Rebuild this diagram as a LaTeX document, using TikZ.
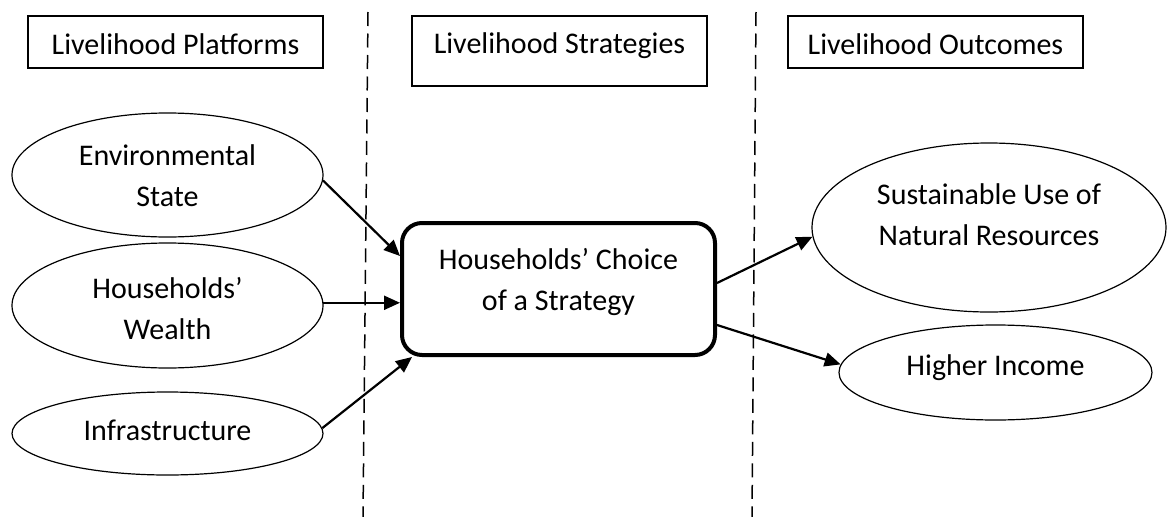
\documentclass[tikz,border=0pt]{standalone}
\usepackage{fontspec}
\setmainfont{Carlito}
\usetikzlibrary{shapes.geometric,arrows.meta}
\newcommand\txtlines[2]{\raisebox{#1}[0pt][0pt]{\begin{tabular}[t]{@{}c@{}}#2\end{tabular}}}
\begin{document}
\begin{tikzpicture}[x=1pt,y=-1pt,
  font=\fontsize{30}{41}\selectfont,
  head/.style={draw, line width=1.2pt, minimum width=295pt, minimum height=52pt, inner sep=0pt},
  oval/.style={draw, ellipse, line width=1.2pt, inner sep=0pt},
  core/.style={draw, rounded corners=20pt, line width=4pt, inner sep=0pt},
  arr/.style={line width=2.2pt, -{Triangle[length=16pt,width=14pt]}},
  divider/.style={line width=1.5pt, dash pattern=on 14pt off 7.5pt}]
\useasboundingbox (0,0) rectangle (1168,517);

% headers
\node[head] (plat) at (175.5,42) {\txtlines{-12pt}{Livelihood Platforms}};
\node[head, minimum height=70pt] (strat) at (559.5,51) {\txtlines{-2pt}{Livelihood Strategies}};
\node[head] (outc) at (935.5,42) {\txtlines{-12pt}{Livelihood Outcomes}};

% dividers
\coordinate (d1top) at (368,12);
\coordinate (d1bot) at (363,517);
\coordinate (d2top) at (756,12);
\coordinate (d2bot) at (752,517);
\draw[divider] (d1top) -- (d1bot);
\draw[divider] (d2top) -- (d2bot);

% platforms
\node[oval, minimum width=311pt, minimum height=124pt] (env) at (167.5,175) {\txtlines{10pt}{Environmental\\State}};
\node[oval, minimum width=311pt, minimum height=125pt] (wealth) at (167.5,305.5) {\txtlines{7.5pt}{Households’\\Wealth}};
\node[oval, minimum width=311pt, minimum height=83pt] (infra) at (167.5,433.5) {\txtlines{-6.5pt}{Infrastructure}};

% strategy
\node[core, minimum width=313pt, minimum height=132pt] (choice) at (558.5,289) {\txtlines{20pt}{Households’ Choice\\of a Strategy}};

% outcomes
\node[oval, minimum width=354pt, minimum height=169pt] (sust) at (989,227.5) {\txtlines{23.5pt}{Sustainable Use of\\Natural Resources}};
\node[oval, minimum width=313pt, minimum height=95pt] (income) at (995.5,372.5) {\txtlines{-2.5pt}{Higher Income}};

% arrows
\draw[arr] (env.-2.6) -- ([yshift=33pt]choice.west);
\draw[arr] (wealth.1.7) -- (wealth.1.7 -| choice.west);
\draw[arr] (infra.2.4) -- ([xshift=12pt]choice.south west);
\draw[arr] ([yshift=6pt]choice.east) -- (sust.183.4);
\draw[arr] ([yshift=-36pt]choice.east) -- (income.177.2);
\end{tikzpicture}
\end{document}
